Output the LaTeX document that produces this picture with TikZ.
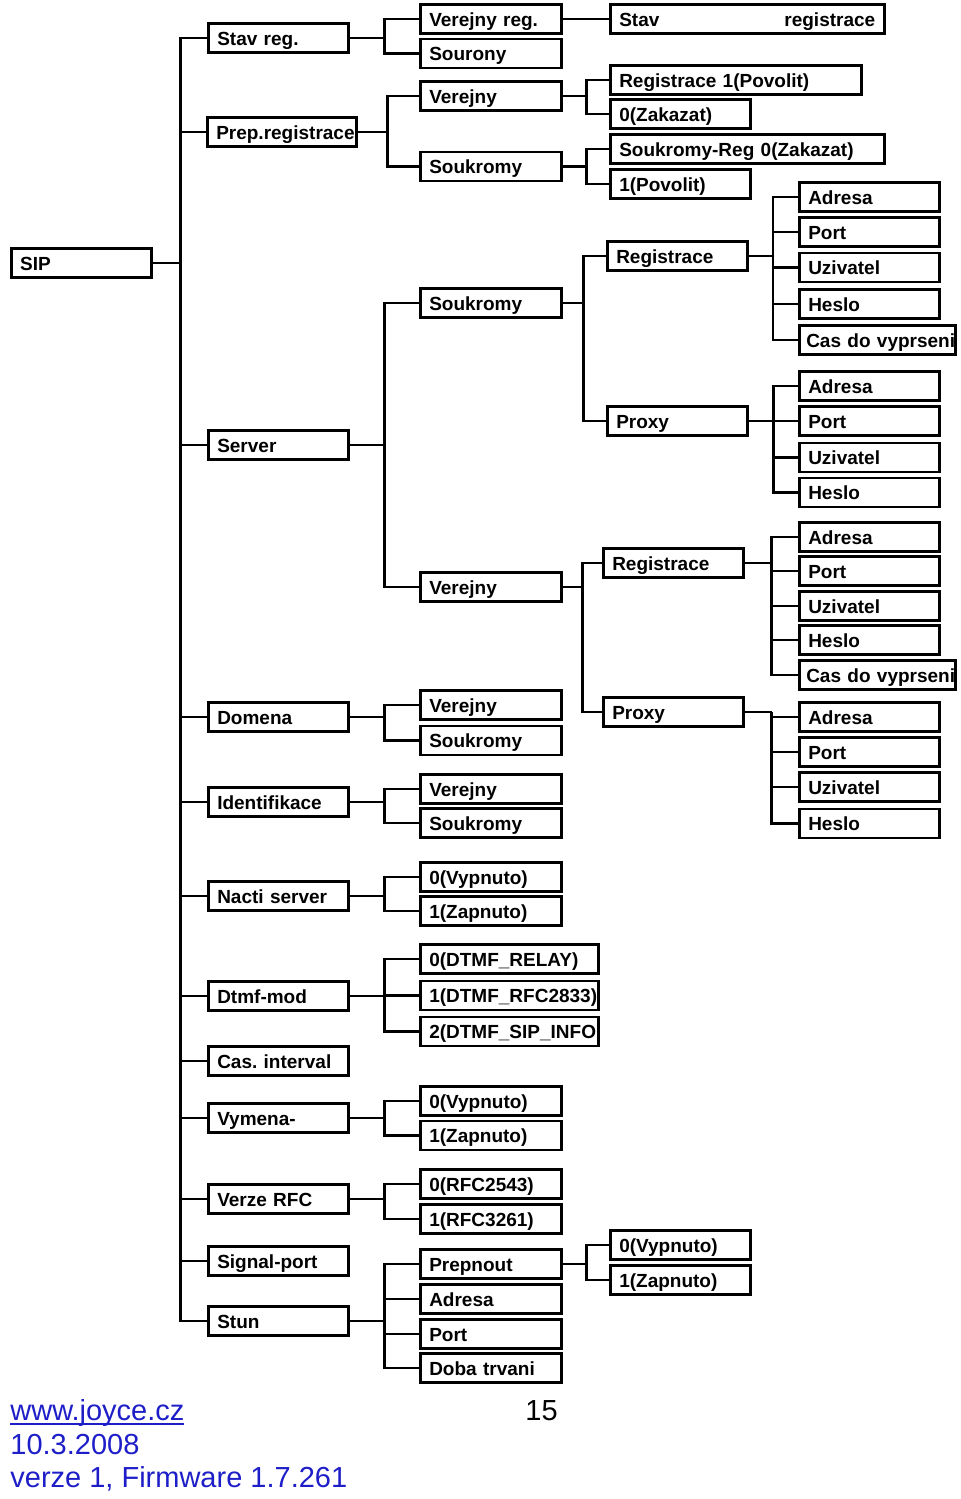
\documentclass[tikz,border=0pt]{standalone}
\usepackage{fontspec}
\setmainfont{Liberation Sans}
\frenchspacing
\definecolor{linkblue}{RGB}{30,30,200}

\newcommand{\boxfont}{\fontsize{9.5}{11}\selectfont\bfseries}
% parent, bus offset, children
\newcommand{\menutree}[3]{%
  \draw[wire] (#1.east) -- ++(#2,0) coordinate (#1-bus);
  \foreach \kid in {#3} \draw[wire] (#1-bus) |- (\kid.west);
}
\newcommand{\urlline}[1]{\setbox0\hbox{#1}\rlap{\rule[-2.6pt]{\wd0}{0.9pt}}\box0}

\begin{document}
\begin{tikzpicture}[x=0.5pt, y=-0.5pt,
    menubox/.style={draw, line width=1.25pt, anchor=west, minimum height=14.5pt,
      inner xsep=4.5pt, inner ysep=0pt, text height=9pt, text depth=1.7pt,
      align=left, font=\boxfont, text width=#1},
    menubox/.default=61pt,
    widebox/.style={menubox=71pt, inner xsep=3.5pt},
    wire/.style={line width=1.25pt},
    footer/.style={anchor=base west, inner sep=0pt, font=\fontsize{14.5}{17}\selectfont}]
  \useasboundingbox (0,0) rectangle (960,1499);

  % root
  \node[menubox] (sip) at (10,263) {SIP};

  % first level
  \node[menubox] (stavreg) at (207,38) {Stav reg.};
  \node[menubox=65.5pt] (prepreg) at (206,132) {Prep.registrace};
  \node[menubox] (server) at (207,445) {Server};
  \node[menubox] (domena) at (207,717) {Domena};
  \node[menubox] (ident) at (207,802) {Identifikace};
  \node[menubox] (nacti) at (207,896) {Nacti server};
  \node[menubox] (dtmf) at (207,996) {Dtmf-mod};
  \node[menubox] (casint) at (207,1061) {Cas. interval};
  \node[menubox] (vymena) at (207,1118) {Vymena-};
  \node[menubox] (verze) at (207,1199) {Verze RFC};
  \node[menubox] (signal) at (207,1261) {Signal-port};
  \node[menubox] (stun) at (207,1321) {Stun};

  % second level
  \node[menubox=61.5pt] (verreg) at (419,19) {Verejny reg.};
  \node[menubox=61.5pt] (sourony) at (419,53.5) {Sourony};
  \node[menubox=61.5pt] (prver) at (419,96) {Verejny};
  \node[menubox=61.5pt] (prsouk) at (419,166.5) {Soukromy};
  \node[menubox=61.5pt] (srvsouk) at (419,303) {Soukromy};
  \node[menubox=61.5pt] (srvver) at (419,587) {Verejny};
  \node[menubox=61.5pt] (domver) at (419,705) {Verejny};
  \node[menubox=61.5pt] (domsouk) at (419,740.5) {Soukromy};
  \node[menubox=61.5pt] (idver) at (419,789) {Verejny};
  \node[menubox=61.5pt] (idsouk) at (419,823) {Soukromy};
  \node[menubox=61.5pt] (nacoff) at (419,877) {0(Vypnuto)};
  \node[menubox=61.5pt] (nacon) at (419,911) {1(Zapnuto)};
  \node[menubox=80pt] (dtmfa) at (419,959) {0(DTMF\_RELAY)};
  \node[menubox=80pt] (dtmfb) at (419,995.5) {\mbox{1(DTMF\_RFC2833)}};
  \node[menubox=80pt] (dtmfc) at (419,1031.5) {\mbox{2(DTMF\_SIP\_INFO}};
  \node[menubox=61.5pt] (vymoff) at (419,1101) {0(Vypnuto)};
  \node[menubox=61.5pt] (vymon) at (419,1135.5) {1(Zapnuto)};
  \node[menubox=61.5pt] (rfca) at (419,1184) {0(RFC2543)};
  \node[menubox=61.5pt] (rfcb) at (419,1219) {1(RFC3261)};
  \node[menubox=61.5pt] (prepnout) at (419,1264) {Prepnout};
  \node[menubox=61.5pt] (stunadr) at (419,1299) {Adresa};
  \node[menubox=61.5pt] (stunport) at (419,1334) {Port};
  \node[menubox=61.5pt] (doba) at (419,1368) {Doba trvani};

  % third level
  \node[menubox=128pt] (stavregistrace) at (609,19) {Stav\hfill registrace};
  \node[menubox=116.5pt] (regpov) at (609,80) {Registrace 1(Povolit)};
  \node[menubox] (zakaz) at (609,114) {0(Zakazat)};
  \node[menubox=128pt] (soukreg) at (609,149) {Soukromy-Reg 0(Zakazat)};
  \node[menubox] (povol) at (609,184) {1(Povolit)};
  \node[menubox] (sreg) at (606,256) {Registrace};
  \node[menubox] (sproxy) at (606,421) {Proxy};
  \node[menubox] (vreg) at (602,563) {Registrace};
  \node[menubox] (vproxy) at (602,712) {Proxy};
  \node[menubox] (prepoff) at (609,1245) {0(Vypnuto)};
  \node[menubox] (prepon) at (609,1280) {1(Zapnuto)};

  % fourth level
  \node[menubox] (sradr) at (798,197) {Adresa};
  \node[menubox] (srport) at (798,232) {Port};
  \node[menubox] (sruzi) at (798,267.5) {Uzivatel};
  \node[menubox] (srheslo) at (798,304) {Heslo};
  \node[widebox] (srcas) at (798,340) {\mbox{Cas do vyprseni}};
  \node[menubox] (spadr) at (798,386) {Adresa};
  \node[menubox] (spport) at (798,421) {Port};
  \node[menubox] (spuzi) at (798,457.5) {Uzivatel};
  \node[menubox] (spheslo) at (798,492.5) {Heslo};
  \node[menubox] (vradr) at (798,537) {Adresa};
  \node[menubox] (vrport) at (798,571) {Port};
  \node[menubox] (vruzi) at (798,606) {Uzivatel};
  \node[menubox] (vrheslo) at (798,640) {Heslo};
  \node[widebox] (vrcas) at (798,675) {\mbox{Cas do vyprseni}};
  \node[menubox] (vpadr) at (798,717) {Adresa};
  \node[menubox] (vpport) at (798,752) {Port};
  \node[menubox] (vpuzi) at (798,787) {Uzivatel};
  \node[menubox] (vpheslo) at (798,823.5) {Heslo};

  % connectors
  \menutree{sip}{28}{stavreg,prepreg,server,domena,ident,nacti,dtmf,casint,vymena,verze,signal,stun}
  \menutree{stavreg}{35}{verreg,sourony}
  \menutree{prepreg}{30}{prver,prsouk}
  \menutree{server}{35}{srvsouk,srvver}
  \menutree{domena}{35}{domver,domsouk}
  \menutree{ident}{35}{idver,idsouk}
  \menutree{nacti}{35}{nacoff,nacon}
  \menutree{dtmf}{35}{dtmfa,dtmfb,dtmfc}
  \menutree{vymena}{35}{vymoff,vymon}
  \menutree{verze}{35}{rfca,rfcb}
  \menutree{stun}{35}{prepnout,stunadr,stunport,doba}
  \draw[wire] (verreg) -- (stavregistrace);
  \menutree{prver}{24}{regpov,zakaz}
  \menutree{prsouk}{24}{soukreg,povol}
  \menutree{srvsouk}{21}{sreg,sproxy}
  \menutree{srvver}{20}{vreg,vproxy}
  \menutree{prepnout}{24}{prepoff,prepon}
  \menutree{sreg}{24.5}{sradr,srport,sruzi,srheslo,srcas}
  \menutree{sproxy}{25}{spadr,spport,spuzi,spheslo}
  \menutree{vreg}{27}{vradr,vrport,vruzi,vrheslo,vrcas}
  \menutree{vproxy}{27}{vpadr,vpport,vpuzi,vpheslo}

  % footer
  \node[footer, text=linkblue] (web) at (10,1420) {\urlline{www.joyce.cz}};
  \node[footer, text=linkblue] (date) at (10,1454) {10.3.2008};
  \node[footer, text=linkblue] (fw) at (10,1487) {verze 1, Firmware 1.7.261};
  \node[footer] (page) at (525,1420) {15};
\end{tikzpicture}
\end{document}
